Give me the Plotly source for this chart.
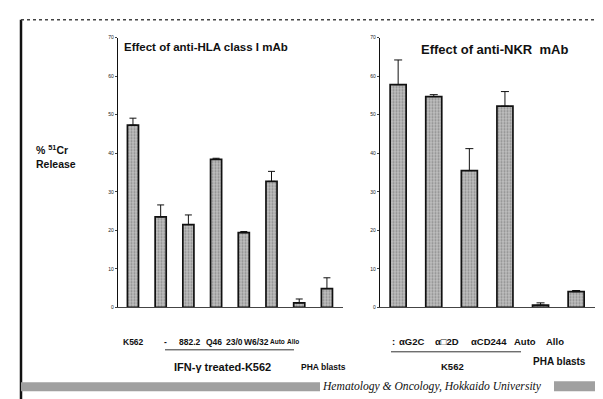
import plotly.graph_objects as go

W, H = 603, 399

# ---------------- data ----------------
left_cats = ["K562", "-", "882.2", "Q46", "23/0", "W6/32", "Auto", "Allo"]
left_vals = [47.3, 23.5, 21.5, 38.4, 19.4, 32.7, 1.2, 4.9]
left_err = [1.8, 3.1, 2.5, 0.3, 0.3, 2.6, 1.0, 2.8]

right_cats = ["-", "αG2C", "α□2D", "αCD244", "Auto", "Allo"]
right_vals = [57.8, 54.7, 35.5, 52.2, 0.6, 4.1]
right_err = [6.4, 0.5, 5.7, 3.8, 0.6, 0.3]

y_ticks = [0, 10, 20, 30, 40, 50, 60, 70]

left_title = "Effect of anti-HLA class I mAb"
right_title = "Effect of anti-NKR  mAb"
y_label = "% <sup>51</sup>Cr<br>Release"
left_group = "IFN-γ treated-K562"
right_group = "K562"
pha_label = "PHA blasts"
footer = "Hematology & Oncology, Hokkaido University"


def px(x):
    return x / W


def py(y):
    return 1 - y / H


bar_style = dict(
    marker=dict(
        color="#b0b0b0",
        line=dict(color="#111", width=1.7),
        pattern=dict(shape=".", fgcolor="#555", bgcolor="#c0c0c0", size=3, solidity=0.4),
    ),
    showlegend=False,
)

fig = go.Figure()
fig.add_trace(go.Bar(
    x=left_cats, y=left_vals, width=0.4, xaxis="x", yaxis="y",
    error_y=dict(type="data", symmetric=False, array=left_err,
                 arrayminus=[0] * len(left_err), color="#111", thickness=1, width=3.5),
    **bar_style))
fig.add_trace(go.Bar(
    x=right_cats, y=right_vals, width=0.45, xaxis="x2", yaxis="y2",
    error_y=dict(type="data", symmetric=False, array=right_err,
                 arrayminus=[0] * len(right_err), color="#111", thickness=1, width=4),
    **bar_style))

y0, y70 = py(301), py(27)
axis_common = dict(showgrid=False, zeroline=False)
fig.update_layout(
    width=W, height=H, margin=dict(l=0, r=0, t=0, b=0),
    paper_bgcolor="white", plot_bgcolor="white",
    font=dict(family="Liberation Sans, Arial, sans-serif", color="#111"),
    xaxis=dict(domain=[px(110), px(335)], range=[-0.54, 7.58], showticklabels=False,
               showline=True, linecolor="#444", linewidth=1, ticks="", anchor="y",
               type="category", **axis_common),
    yaxis=dict(domain=[y0, y70], range=[0, 70], tickvals=y_ticks, showline=True,
               linecolor="#111", linewidth=1.2, ticks="outside", ticklen=2,
               tickfont=dict(size=5, color="#222"), anchor="x", **axis_common),
    xaxis2=dict(domain=[px(372), px(587)], range=[-0.51, 5.53], showticklabels=False,
                showline=True, linecolor="#444", linewidth=1, ticks="", anchor="y2",
                type="category", **axis_common),
    yaxis2=dict(domain=[y0, y70], range=[0, 70], tickvals=y_ticks, showline=True,
                linecolor="#111", linewidth=1.2, ticks="outside", ticklen=2,
                tickfont=dict(size=5, color="#222"), anchor="x2", **axis_common),
    bargap=0.5,
)

ann = []


def text(x, y, s, size, bold=True, xanchor="center", family=None, italic=False):
    t = f"<b>{s}</b>" if bold else s
    if italic:
        t = f"<i>{t}</i>"
    d = dict(x=px(x), y=py(y), xref="paper", yref="paper", text=t, showarrow=False,
             xanchor=xanchor, yanchor="middle", font=dict(size=size, color="#111"))
    if family:
        d["font"]["family"] = family
    ann.append(d)


# titles
text(198, 37, left_title, 11.5)
text(486, 39, right_title, 13)
# y label
ann.append(dict(x=px(26), y=py(148), xref="paper", yref="paper", text="<b>" + y_label + "</b>",
                showarrow=False, xanchor="left", yanchor="middle", align="left",
                font=dict(size=10.5, color="#111")))

# left category labels
left_label_x = [125, 158, 182, 206, 226, 248, 269, 285]
for lab, x in zip(left_cats, left_label_x):
    text(x, 336, lab, 8.5 if lab not in ("Auto", "Allo") else 6.5)
text(214, 361, left_group, 11)
text(315, 361, pha_label, 8.5)

# right category labels
right_label_x = [385, 404, 439, 481, 517, 547]
right_disp = [":", "αG2C", "α□2D", "αCD244", "Auto", "Allo"]
for lab, x in zip(right_disp, right_label_x):
    text(x, 336, lab, 9.5)
text(444, 361, right_group, 9.5)
text(551, 356, pha_label, 10)

# footer
text(424, 381, footer, 11.6, bold=False, family="Liberation Serif, serif", italic=True)

fig.update_layout(annotations=ann)

shapes = [
    # underlines of group labels
    dict(type="line", xref="paper", yref="paper", x0=px(157), x1=px(286), y0=py(344), y1=py(344),
         line=dict(color="#333", width=1)),
    dict(type="line", xref="paper", yref="paper", x0=px(383), x1=px(513), y0=py(346), y1=py(346),
         line=dict(color="#333", width=1)),
    # slide frame
    dict(type="line", xref="paper", yref="paper", x0=px(13), x1=px(13), y0=py(9), y1=py(399),
         line=dict(color="#111", width=2.5)),
    dict(type="line", xref="paper", yref="paper", x0=px(13), x1=px(601), y0=py(9), y1=py(9),
         line=dict(color="#444", width=1.5, dash="dot")),
    dict(type="line", xref="paper", yref="paper", x0=px(601), x1=px(601), y0=py(9), y1=py(399),
         line=dict(color="#aaa", width=1, dash="dot")),
    # footer bands
    dict(type="rect", xref="paper", yref="paper", x0=px(13), x1=px(312), y0=py(377), y1=py(386),
         fillcolor="#a0a0a0", line=dict(width=0)),
    dict(type="rect", xref="paper", yref="paper", x0=px(546), x1=px(597), y0=py(376), y1=py(386),
         fillcolor="#a0a0a0", line=dict(width=0)),
]
fig.update_layout(shapes=shapes)

fig.write_html("out.html")
